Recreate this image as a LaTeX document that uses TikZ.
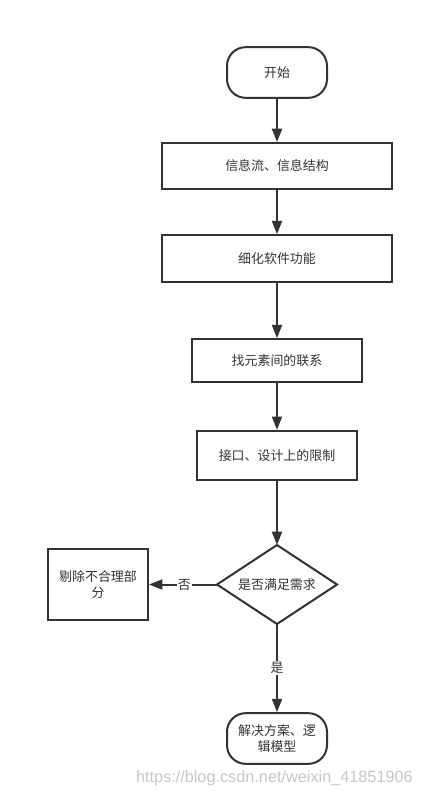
\documentclass[tikz,border=0pt]{standalone}
\usepackage{fontspec}
\newfontfamily\cjk{Noto Sans CJK SC}
\usetikzlibrary{arrows.meta}
\definecolor{ink}{HTML}{333333}
\begin{document}
\begin{tikzpicture}[x=0.75pt,y=-0.75pt,
  box/.style={draw=ink,line width=1.5pt,fill=white,text=ink,font=\cjk\fontsize{9.7}{12}\selectfont,inner sep=0pt,align=center},
  term/.style={box,rounded corners=14pt},
  conn/.style={draw=ink,line width=1.5pt,-{Triangle[length=10pt,width=7.5pt]}},
  lbl/.style={fill=white,text=ink,font=\cjk\fontsize{9.7}{12}\selectfont,inner sep=1pt}]
\useasboundingbox[fill=white] (0,0) rectangle (423,796);
\node[term,minimum width=75pt,minimum height=38pt] (start) at (277,72.5) {开始};
\node[box,minimum width=172pt,minimum height=34.5pt] (b1) at (277,166) {信息流、信息结构};
\node[box,minimum width=172pt,minimum height=35pt] (b2) at (277,258.5) {细化软件功能};
\node[box,minimum width=127.5pt,minimum height=32pt] (b3) at (277,360.5) {找元素间的联系};
\node[box,minimum width=120.5pt,minimum height=37pt] (b4) at (277,455.5) {接口、设计上的限制};
\coordinate (dtop) at (277,545);
\coordinate (dbot) at (277,624);
\coordinate (dleft) at (217,584.5);
\coordinate (dright) at (337,584.5);
\draw[draw=ink,line width=1.5pt,fill=white,line join=miter] (dtop) -- (dright) -- (dbot) -- (dleft) -- cycle;
\node[text=ink,font=\cjk\fontsize{9.7}{12}\selectfont] (dec) at (277,584.5) {是否满足需求};
\node[box,minimum width=75pt,minimum height=53pt,text width=62pt] (rej) at (98,584.5) {剔除不合理部\\分};
\node[term,minimum width=75pt,minimum height=38pt,text width=64pt] (end) at (277,738.5) {解决方案、逻\\辑模型};
\draw[conn] (start) -- (b1);
\draw[conn] (b1) -- (b2);
\draw[conn] (b2) -- (b3);
\draw[conn] (b3) -- (b4);
\draw[conn] (b4) -- (dtop);
\draw[conn] (dleft) -- node[lbl,pos=0.48] {否} (rej);
\draw[conn] (dbot) -- node[lbl,pos=0.5] {是} (end);
\node[text=black!22,font=\fontspec{Liberation Sans}\fontsize{12.2}{14}\selectfont,anchor=east,inner sep=0pt] (wm) at (413,778) {https://blog.csdn.net/weixin\_41851906};
\end{tikzpicture}
\end{document}
